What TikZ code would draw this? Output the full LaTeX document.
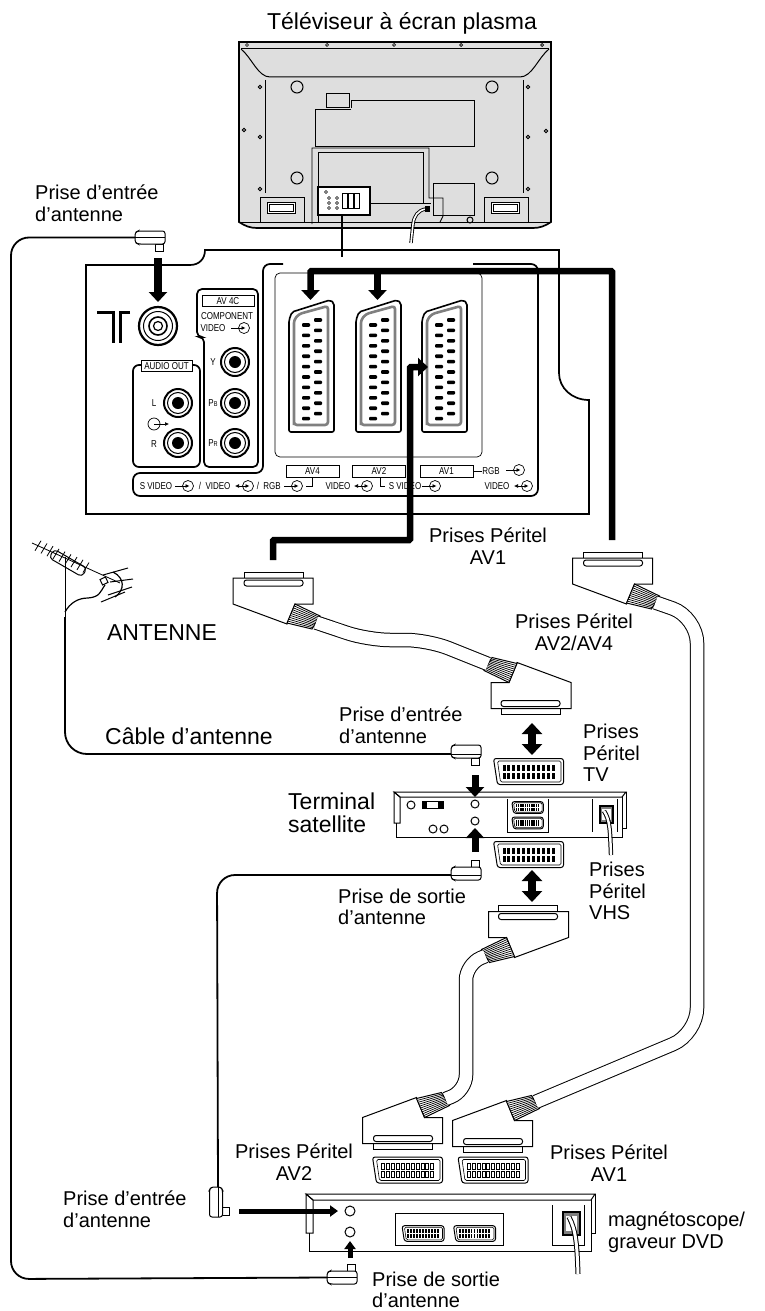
\documentclass[tikz,border=0pt]{standalone}
\usepackage{fontspec}
\setmainfont{Liberation Sans}
\newfontfamily\narrowsf[FakeStretch=0.8]{Liberation Sans}
\usetikzlibrary{arrows.meta}
\definecolor{tvgray}{gray}{0.87}
\definecolor{ringgray}{gray}{0.5}

\tikzset{
  pics/scartplug/.style={code={
    \draw[thinline, fill=white] (-29,-19) rectangle (30,-13);
    \draw[thinline, fill=white] (-40,-13) -- (40,-13) -- (40,13) -- (22,13) -- (14,33) -- (-40,13) -- cycle;
    \draw[thinline, fill=white, rounded corners=2.5pt] (-29,-11) rectangle (30,-5);
    \draw[thinline, fill=white] (22,13) -- (47,25) -- (39,38) -- (14,32) -- cycle;
    \foreach \t in {.1,.2,.3,.4,.5,.6,.7,.8,.9}
      \draw[line width=.7pt] ({22-8*\t},{13+19*\t}) -- ({47-8*\t},{25+13*\t});
    \coordinate (-end) at (43,31.5);
  }},
  pics/scarth/.style={code={
    \draw[thinline, fill=white, rounded corners=2.5pt] (-35,-13) -- (35,-13) -- (35,13) -- (-31,13) -- cycle;
    \draw[line width=.6pt, rounded corners=1.5pt] (-31,-10.5) -- (32.5,-10.5) -- (32.5,10.5) -- (-28,10.5) -- cycle;
    \foreach \c in {0,...,10} {
      \draw[#1] ({-26+4.9*\c},-7) rectangle ({-23+4.9*\c},-1);
      \draw[#1] ({-26+4.9*\c},1) rectangle ({-23+4.9*\c},7);
    }
  }},
  pics/scartv/.style={code={
    \draw[line width=1.6pt, fill=white, rounded corners=2pt] (0,20) -- (3,12) -- (41,0) -- (45,3) -- (45,132) -- (0,132) -- cycle;
    \draw[line width=2.6pt, draw=ringgray, rounded corners=3pt] (5,122) -- (5,20) -- (10,14) -- (39,6) -- (39,125) -- (5,125) -- cycle;
    \foreach \r in {0,...,9} {
      \fill[rounded corners=1pt] (13,{23.2+10.4*\r}) rectangle (21,{26.8+10.4*\r});
      \fill[rounded corners=1pt] (25,{18.2+10.4*\r}) rectangle (33,{21.8+10.4*\r});
    }
    \coordinate (-in) at (21.5,0);
    \coordinate (-side) at (6,67);
  }},
  pics/antplug/.style={code={
    \draw[thinline, fill=white] (20,6.5) rectangle (28,13.5);
    \draw[thinline, fill=white, rounded corners=2.5pt] (0,-5) -- (3,-6.5) -- (30,-6.5) -- (30,6.5) -- (3,6.5) -- (0,5) -- cycle;
    \draw[line width=.7pt] (0,#1) -- (30,#1);
    \coordinate (-wire) at (0,#1);
  }},
  pics/jack/.style={code={
    \draw[line width=2pt, fill=white] (0,0) circle[radius=14];
    \draw[line width=1pt] (0,0) circle[radius=10.5];
    \fill (0,0) circle[radius=6];
  }},
  pics/sigin/.style={code={
    \draw[line width=.7pt] (0,0) circle[radius=5.5];
    \draw[line width=.7pt, -{Latex[length=4pt,width=4pt]}] (-13,0) -- (1.5,0);
  }},
  pics/sigboth/.style={code={
    \draw[line width=.7pt] (0,0) circle[radius=5.5];
    \draw[line width=.7pt, {Latex[length=4pt,width=4pt]}-{Latex[length=4pt,width=4pt]}] (-13,0) -- (1.5,0);
  }}
}

\begin{document}
\begin{tikzpicture}[
    x=1pt, y=-1pt,
    thinline/.style={line width=1pt},
    wire/.style={line width=1.8pt, rounded corners=18pt},
    outline/.style={line width=1.7pt},
    cable/.style={line width=1pt, double=white, double distance=12.5pt},
    bus/.style={line width=6.5pt, rounded corners=1pt},
    bigtip/.style={-{Triangle[length=10pt,width=18pt]}},
    pointer/.style={line width=7pt, -{Triangle[length=10pt,width=18pt]}},
    swapper/.style={line width=8pt, {Triangle[length=11pt,width=20pt]}-{Triangle[length=11pt,width=20pt]}},
    minipointer/.style={line width=5pt, -{Triangle[length=8pt,width=11pt]}},
    solidpin/.style={draw=none, fill=black},
    openpin/.style={line width=.4pt, fill=white},
    lbl/.style={font=\fontsize{20}{21.5}\selectfont, align=center, inner sep=0pt},
    lblleft/.style={lbl, align=left, anchor=west},
    biglbl/.style={font=\fontsize{23}{23.5}\selectfont, align=center, inner sep=0pt},
    small/.style={font=\narrowsf\fontsize{10}{10}\selectfont, inner sep=0pt},
    tag/.style={small, draw, fill=white, line width=.9pt, minimum height=11.5pt}
  ]
  \useasboundingbox (0,0) rectangle (765,1311);

  % television
  \node[biglbl] (title) at (402,23) {Téléviseur à écran plasma};
  \draw[outline, fill=tvgray] (239,42) -- (551,42) -- (551,222) .. controls (545,226) and (540,228) .. (533,228) -- (257,228) .. controls (250,228) and (245,226) .. (239,222) -- cycle;
  \draw[thinline] (241,49) -- (549,49);
  \draw[thinline] (241,49) .. controls (252,58) and (258,77) .. (270,77) -- (520,77) .. controls (532,77) and (538,58) .. (549,49);
  \draw[thinline] (239,222) -- (551,222);
  \draw[thinline] (265,80) -- (265,193);
  \draw[thinline] (523,80) -- (523,193);
  \foreach \x in {247,327,394,461,542}
    \draw[line width=.7pt] (\x,45) circle[radius=1.5];
  \foreach \x/\y in {260/87,528/87,244/130,260/137,528/137,546/131,260/189,528/189}
    \draw[line width=.7pt, fill=gray] (\x,\y) circle[radius=1.8];
  \foreach \x/\y in {297/87,492/87,297/178,492/178}
    \draw[thinline, fill=tvgray] (\x,\y) circle[radius=6];
  \draw[thinline] (326,94) rectangle (349,108);
  \draw[thinline] (351,108) -- (351,101) -- (474,101) -- (474,146) -- (315,146) -- (315,110) -- (351,110);
  \draw[line width=.9pt] (312,224) -- (312,148) -- (429,148) -- (429,198) -- (443,198) -- (443,216) -- (440,222);
  \draw[line width=1pt] (318,222) -- (318,152) -- (423,152) -- (423,203);
  \draw[thinline] (370,203) -- (431,203);
  \draw[thinline] (433,183) rectangle (474,215);
  \draw[thinline] (470,220) circle[radius=3];
  \foreach \x in {260,484} {
    \draw[thinline, fill=tvgray] (\x,197) rectangle ++(44,25);
    \draw[thinline, fill=white] (\x+7,202) rectangle ++(28,11);
    \draw[line width=.7pt] (\x+9,204) rectangle ++(24,7);
  }
  \draw[line width=.9pt, double=white, double distance=1.6pt] (426,209) .. controls (418,210) and (414,216) .. (413,224) -- (411,243);
  \fill (425,206) rectangle (430,212);
  \node[draw, fill=white, line width=2.6pt, minimum width=52pt, minimum height=28pt, inner sep=0pt] (tvport) at (344,201) {};
  \foreach \x in {342,348,354}
    \draw[thinline] (\x,193) rectangle ++(5,15);
  \foreach \x/\y in {329/198,337/198,329/203,337/203,329/208,337/208,326/192}
    \draw[line width=.6pt] (\x,\y) circle[radius=1.5];

  % rear panel
  \draw[outline] (86,514) -- (86,265) -- (190,265) .. controls (199,265) and (205,259) .. (205,250) -- (559,250) -- (559,373) .. controls (559,388) and (572,400) .. (589,400) -- (589,514) -- cycle;
  \draw[outline, rounded corners=7pt] (283,264) -- (263,264) -- (263,473) -- (133,473) -- (133,496) -- (538,496) -- (538,264) -- (473,264);
  \draw[outline, rounded corners=5pt] (197,289) -- (258,289) -- (258,467) -- (204,467) -- (204,337) -- (197,337) -- cycle;
  \draw[outline, rounded corners=6pt] (133,365) -- (200,365) -- (200,467) -- (133,467) -- cycle;
  \draw[line width=.7pt, rounded corners=5pt] (275,273) rectangle (482,457);
  \draw[line width=3pt] (97,312) -- (113,312) -- (113,343);
  \draw[line width=3pt] (130,312) -- (120,312) -- (120,343);
  \draw[line width=2.2pt] (158,326) circle[radius=19];
  \draw[line width=1pt] (158,326) circle[radius=14.5];
  \draw[line width=1.6pt] (158,326) circle[radius=9];
  \draw[line width=1.2pt] (158,326) circle[radius=4.5];
  \coordinate (antsock) at (158,302);

  \node[tag, minimum width=52pt] (av4c) at (228,301) {AV 4C};
  \node[small] (component) at (227,316) {COMPONENT};
  \node[small] (videoc) at (213,328) {VIDEO};
  \pic at (244,328) {sigin};
  \pic (jacky) at (235,362) {jack};
  \pic (jackb) at (235,403) {jack};
  \pic (jackr) at (235,443) {jack};
  \node[small] (ylab) at (213,362) {Y};
  \node[small] (pblab) at (213,403) {P{\fontsize{7}{7}\selectfont B}};
  \node[small] (prlab) at (213,443) {P{\fontsize{7}{7}\selectfont R}};
  \node[tag, minimum width=51pt] (audioout) at (166.5,366) {AUDIO OUT};
  \pic (jackl) at (178,403) {jack};
  \pic (jackrr) at (178,443) {jack};
  \node[small] (llab) at (154,403) {L};
  \node[small] (rlab) at (154,444) {R};
  \draw[line width=.7pt] (154,424) circle[radius=6];
  \draw[line width=.7pt, -{Latex[length=4pt,width=4pt]}] (154,424) -- (169,424);

  \pic (av4) at (289,300) {scartv};
  \pic (av2) at (356,300) {scartv};
  \pic (av1) at (422,300) {scartv};
  \node[tag, minimum width=53pt] (av4lab) at (312.5,471.5) {AV4};
  \node[tag, minimum width=53pt] (av2lab) at (379,471.5) {AV2};
  \node[tag, minimum width=53pt] (av1lab) at (446.5,471.5) {AV1};
  \node[small] (svid) at (156,486) {S VIDEO};
  \pic at (188,486) {sigin};
  \node[small] (sl1) at (200,486) {/};
  \node[small] (vid) at (218,486) {VIDEO};
  \pic at (248,486) {sigboth};
  \node[small] (sl2) at (258,486) {/};
  \node[small] (rgb) at (272,486) {RGB};
  \pic at (297,486) {sigin};
  \draw[thinline] (312.5,477) -- (312.5,486) -- (306,486);
  \node[small] (vidb) at (338,486) {VIDEO};
  \pic at (367,486) {sigboth};
  \draw[thinline] (380,477) -- (380,486) -- (385,486);
  \node[small] (svidb) at (405,486) {S VIDEO};
  \pic at (435,486) {sigin};
  \draw[thinline] (av1lab.east) -- (482,471.5);
  \node[small] (rgbr) at (491,471) {RGB};
  \pic at (519,470) {sigin};
  \node[small] (vidr) at (497,486) {VIDEO};
  \pic at (527,486) {sigboth};

  \coordinate (paneltop) at (342,257);
  \draw[line width=1.4pt] (tvport.south -| paneltop) -- (paneltop);

  % scart plugs and cables
  \pic (plugsat) at (273,591) {scartplug};
  \pic[rotate=180] (plugtv) at (531,695.5) {scartplug};
  \pic (plugav) at (612.5,571) {scartplug};
  \pic[xscale=-1] (plugvhs) at (528.5,924.5) {scartplug};
  \pic[yscale=-1] (plugrec2) at (402.5,1130.5) {scartplug};
  \pic[yscale=-1] (plugrec1) at (492.5,1133.5) {scartplug};
  \draw[cable, rounded corners=22pt] (plugsat-end) -- (368,640) -- (428,640) -- (plugtv-end);
  \draw[cable, rounded corners=26pt] (plugav-end) -- (697,617) -- (697,1034) -- (plugrec1-end);
  \draw[cable, rounded corners=16pt] (plugvhs-end) -- (466,964) -- (466,1091) -- (plugrec2-end);

  \coordinate (busav) at (612,540);
  \coordinate (buscorner) at (612,271);
  \coordinate (bussat) at (273,560);
  \draw[bus, bigtip] (busav) -- (buscorner) -| (av4-in);
  \draw[bus, bigtip] (buscorner -| av2-in) -- (av2-in);
  \draw[bus, bigtip] (bussat) -- (273,540) -- (410,540) -- (410,367) -- (av1-side);

  % aerial
  \draw[line width=.8pt] (32,543) -- (120,583);
  \foreach \x in {38,44,...,90}
    \draw[line width=.8pt] ({\x+3},{543+(\x-32)*.4545-5}) -- ({\x-3},{543+(\x-32)*.4545+5});
  \draw[thinline, rounded corners=4pt, rotate around={-30:(68,563)}] (49,558) rectangle (87,568);
  \draw[thinline] (103,575) -- (128,568);
  \draw[thinline] (110,582) -- (133,579);
  \draw[thinline] (108,595) -- (132,587);
  \draw[thinline] (101,602) -- (125,592);
  \draw[line width=1.2pt] (113,572) .. controls (125,578) and (125,590) .. (115,597);
  \draw[thinline, fill=white, rotate around={25:(104,581)}] (101,578) rectangle (107,584);
  \draw[line width=1.2pt] (105,585) .. controls (100,592) and (100,597) .. (88,598) .. controls (78,598) and (70,603) .. (65,612);
  \draw[line width=.8pt] (65,557) -- (65,617);
  \node[biglbl] (antenne) at (162,633) {ANTENNE};

  % satellite terminal
  \draw[thinline, fill=white] (394,792) -- (626,792) -- (622,797) -- (400,797) -- cycle;
  \draw[thinline] (394,792) -- (400,797) -- (400,823) -- (394,823) -- cycle;
  \draw[thinline] (626,792) -- (626,828) -- (622,828) -- (622,797);
  \draw[thinline] (396,823) -- (396,837) -- (622,837) -- (622,828);
  \foreach \x/\y in {411/805,475/804,475/821,433/829,444/829}
    \draw[thinline] (\x,\y) circle[radius=4];
  \draw[thinline, fill=white] (422,801) rectangle (443,808);
  \fill (422,801) rectangle (427,808);
  \fill (438,801) rectangle (443,808);
  \draw[thinline] (507,799) -- (507,832) -- (548,832) -- (548,799);
  \pic[scale=.45] (satsock1) at (527.5,807.5) {scarth=solidpin};
  \pic[scale=.45] (satsock2) at (527.5,823) {scarth=solidpin};
  \draw[thinline] (592,799) -- (592,832);
  \draw[thinline] (617,799) -- (617,832);
  \draw[line width=1.2pt, fill=gray] (600,806) rectangle (613,823);
  \fill[white] (602,809) rectangle (611,820);
  \draw[line width=1pt, double=white, double distance=2.4pt] (604,811) .. controls (610,820) and (610,830) .. (611,855);
  \pic (socktv) at (528.5,771.5) {scarth=solidpin};
  \pic (sockvhs) at (528.5,854.5) {scarth=solidpin};
  \pic (satin) at (451,751.5) {antplug=2.5};
  \pic[yscale=-1] (satout) at (451,873.5) {antplug=-1.5};
  \coordinate (satinfrom) at (475,775);
  \coordinate (satinto) at (475,797);
  \coordinate (satoutfrom) at (475,852);
  \coordinate (satoutto) at (475,828);
  \draw[pointer] (satinfrom) -- (satinto);
  \draw[pointer] (satoutfrom) -- (satoutto);
  \coordinate (swapa) at (532,723);
  \coordinate (swapb) at (532,755);
  \coordinate (swapc) at (532,870);
  \coordinate (swapd) at (532,902);
  \draw[swapper] (swapa) -- (swapb);
  \draw[swapper] (swapc) -- (swapd);

  % recorder
  \draw[thinline, fill=white] (306,1194) -- (595,1194) -- (591,1200) -- (313,1200) -- cycle;
  \draw[thinline] (306,1194) -- (313,1200) -- (313,1233) -- (306,1233) -- cycle;
  \draw[thinline] (595,1194) -- (595,1233) -- (591,1233) -- (591,1200);
  \draw[thinline] (309,1233) -- (309,1251) -- (591,1251) -- (591,1233);
  \draw[thinline] (350,1211) circle[radius=5];
  \draw[thinline] (350,1232) circle[radius=5];
  \draw[thinline] (395,1213) rectangle (503,1245);
  \pic[scale=.6] (recsock1) at (423,1233.5) {scarth=solidpin};
  \pic[scale=.6] (recsock2) at (474.5,1233.5) {scarth=solidpin};
  \draw[thinline] (552,1205) -- (552,1245) -- (584,1245) -- (584,1205);
  \draw[line width=1.2pt, fill=gray] (563,1212) rectangle (580,1235);
  \fill[white] (566,1216) rectangle (577,1231);
  \draw[line width=1pt, double=white, double distance=3pt] (569,1217) .. controls (576,1230) and (577,1245) .. (578,1274);
  \pic (sockrec2) at (407.5,1170) {scarth=openpin};
  \pic (sockrec1) at (493,1170) {scarth=openpin};

  % aerial leads
  \pic (planttop) at (135,237.5) {antplug=0};
  \pic[yscale=-1] (plugrecout) at (327,1277.5) {antplug=0};
  \pic[rotate=-90, yscale=-1] (plugrecin) at (216,1187) {antplug=2};
  \draw[wire] (planttop-wire) -- (11,237.5) -- (11,1279) -- (plugrecout-wire);
  \draw[wire] (satout-wire) -- (217,875) -- (plugrecin-wire);
  \draw[wire, rounded corners=22pt] (65,617) -- (65,754) -- (satin-wire);
  \coordinate (antfrom) at (158,258);
  \draw[line width=8pt, -{Triangle[length=10pt,width=18pt]}] (antfrom) -- (antsock);
  \coordinate (recinfrom) at (239,1211);
  \coordinate (recinto) at (338,1211);
  \coordinate (recoutfrom) at (350,1258);
  \coordinate (recoutto) at (350,1241);
  \draw[minipointer] (recinfrom) -- (recinto);
  \draw[minipointer] (recoutfrom) -- (recoutto);

  % labels
  \node[lblleft] (inputtv) at (35,203) {Prise d'entrée\\d'antenne};
  \node[lbl] (periav1) at (488,546) {Prises Péritel\\AV1};
  \node[lbl] (periav24) at (574,632) {Prises Péritel\\AV2/AV4};
  \node[biglbl] (cablelab) at (189,736) {Câble d'antenne};
  \node[lblleft] (inputsat) at (339,725) {Prise d'entrée\\d'antenne};
  \node[lblleft] (peritv) at (583,753) {Prises\\Péritel\\TV};
  \node[biglbl, align=left, anchor=west] (terminal) at (288,813) {Terminal\\satellite};
  \node[lblleft] (outputsat) at (338,907) {Prise de sortie\\d'antenne};
  \node[lblleft] (perivhs) at (589,891) {Prises\\Péritel\\VHS};
  \node[lbl] (perirec2) at (294,1162) {Prises Péritel\\AV2};
  \node[lbl] (perirec1) at (609,1163) {Prises Péritel\\AV1};
  \node[lblleft] (inputrec) at (63,1209) {Prise d'entrée\\d'antenne};
  \node[lblleft] (recorder) at (608,1232) {magnétoscope/\\graveur DVD};
  \node[lblleft] (outputrec) at (372,1290) {Prise de sortie\\d'antenne};
\end{tikzpicture}
\end{document}
